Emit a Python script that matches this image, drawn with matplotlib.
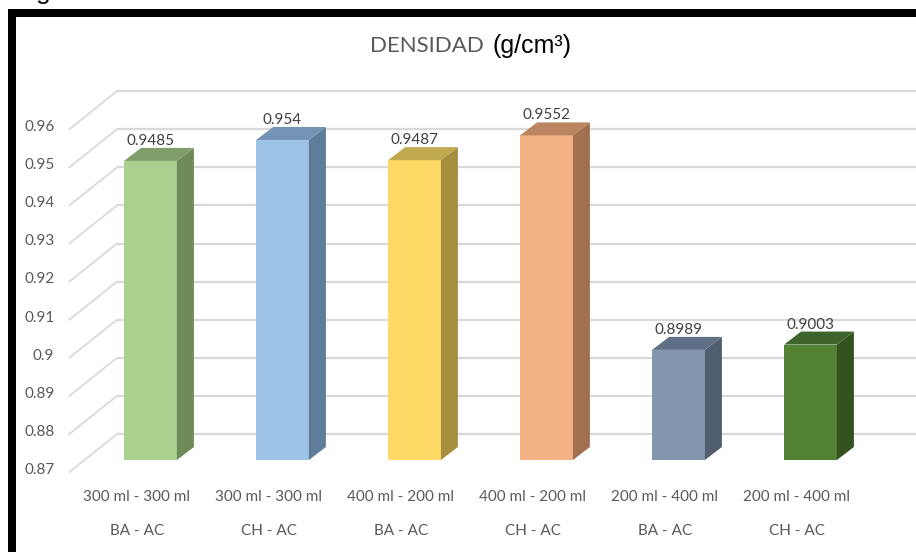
import numpy as np
import matplotlib.pyplot as plt
from matplotlib.patches import Polygon, Rectangle

# densidad por mezcla
vol_labels = ['300 ml - 300 ml', '300 ml - 300 ml', '400 ml - 200 ml',
              '400 ml - 200 ml', '200 ml - 400 ml', '200 ml - 400 ml']
mix_labels = ['BA - AC', 'CH - AC', 'BA - AC', 'CH - AC', 'BA - AC', 'CH - AC']
densidad = [0.9485, 0.954, 0.9487, 0.9552, 0.8989, 0.9003]
ticks = [0.87, 0.88, 0.89, 0.90, 0.91, 0.92, 0.93, 0.94, 0.95, 0.96]
tick_text = ['0.87', '0.88', '0.89', '0.9', '0.91', '0.92', '0.93', '0.94', '0.95', '0.96']

# colores: frente, lateral, tapa
front_c = ['#A9D08E', '#9DC3E6', '#FFD966', '#F4B183', '#8497B0', '#548235']
side_c = ['#6E8A59', '#5F7C99', '#A68E3F', '#A07050', '#515E70', '#33521F']
top_c = ['#7F9E69', '#7394B4', '#C2A84E', '#BC8562', '#5F6F86', '#3F6429']

W, H = 916, 552
fig = plt.figure(figsize=(W / 100, H / 100), dpi=100)
fig.patch.set_facecolor('white')

# escala: 132 px por categoria, 3810 px por unidad de densidad
XPX, YPX = 132.0, 3810.0
x0_px, y0_px = 150.5, 460.0
xlim = ((16 - x0_px) / XPX, (W - x0_px) / XPX)
ylim = (0.87 - (H - y0_px) / YPX, 0.87 + (y0_px - 17) / YPX)
ax = fig.add_axes([16 / W, 0, (W - 16) / W, (H - 17) / H])
ax.set_xlim(*xlim)
ax.set_ylim(*ylim)
ax.axis('off')

def px(dx=0, dy=0):
    # desplazamiento en pixeles -> unidades de datos
    return dx / XPX, -dy / YPX

half = 0.2
bdx, bdy = px(17, -13)          # profundidad de la barra
fdx, fdy = px(-15, 12)          # borde frontal del piso
kdx, kdy = px(32.5, -26)        # pared del fondo
wall = -0.5
grid_c = '#D9D9D9'

for v, t in zip(ticks, tick_text):
    # linea del fondo y diagonal de la pared izquierda
    ax.plot([wall + kdx, xlim[1] + 1], [v + kdy, v + kdy], color=grid_c, lw=1.6, zorder=1,
            solid_capstyle='butt')
    ax.plot([wall + fdx, wall + kdx], [v + fdy, v + kdy], color=grid_c, lw=1.3, zorder=1)
    ax.text(wall + fdx - 0.115, v + fdy + 2 / YPX, t, ha='right', va='center',
            fontsize=11, color='#595959', family='Lato')

for i, v in enumerate(densidad):
    l, r = i - half, i + half
    base = ticks[0]
    ax.add_patch(Rectangle((l, base), r - l, v - base, facecolor=front_c[i],
                           edgecolor='none', zorder=3))
    ax.add_patch(Polygon([(r, base), (r + bdx, base + bdy), (r + bdx, v + bdy), (r, v)],
                         closed=True, facecolor=side_c[i], edgecolor='none', zorder=3))
    ax.add_patch(Polygon([(l, v), (r, v), (r + bdx, v + bdy), (l + bdx, v + bdy)],
                         closed=True, facecolor=top_c[i], edgecolor='none', zorder=3))
    ax.text(i, v + bdy + 7 / YPX, f'{v:g}', ha='center', va='center',
            fontsize=11, color='#404040', family='Lato', zorder=4)
    ax.text(i + fdx + 0.01, base + fdy - 25 / YPX, vol_labels[i], ha='center', va='center',
            fontsize=11, color='#595959', family='Lato')
    ax.text(i + fdx + 0.01, base + fdy - 59 / YPX, mix_labels[i], ha='center', va='center',
            fontsize=11, color='#595959', family='Lato')

# titulo
fig.text(484 / W, 1 - 46 / H, 'DENSIDAD', ha='right', va='center', fontsize=16,
         color='#595959', family='Lato')
fig.text(492 / W, 1 - 46 / H, '(g/cm³)', ha='left', va='center', fontsize=18,
         color='black', family='Liberation Sans')

# marco negro
fig.patches.append(Rectangle((8 / W, 1 - 17 / H), 1, 8 / H, transform=fig.transFigure,
                             facecolor='black', edgecolor='none'))
fig.patches.append(Rectangle((8 / W, 0), 8 / W, 1 - 9 / H, transform=fig.transFigure,
                             facecolor='black', edgecolor='none'))
fig.text(36 / W, 1 + 1 / H, 'g', ha='left', va='baseline', fontsize=19,
         color='black', family='Liberation Sans')

fig.savefig('out.png', dpi=100)
